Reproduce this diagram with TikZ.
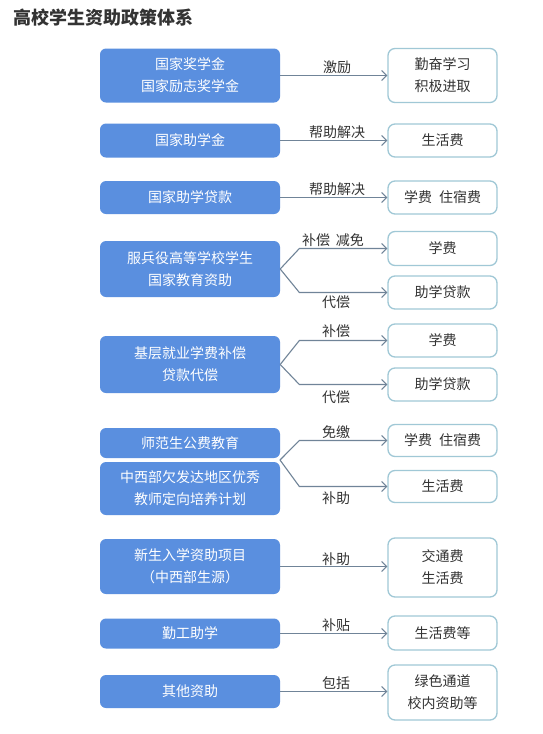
\documentclass[tikz,border=0pt]{standalone}
\usepackage{fontspec}
\newfontfamily\cjk{Noto Sans CJK SC}
\usetikzlibrary{arrows.meta,calc}
\definecolor{bluebox}{RGB}{90,143,223}
\definecolor{rborder}{RGB}{160,200,214}
\definecolor{arrowc}{RGB}{112,132,152}
\definecolor{txt}{RGB}{51,51,51}
\tikzset{
  lbox/.style={fill=bluebox,rounded corners=6pt,text=white,font=\cjk\fontsize{14}{22}\selectfont,align=center,inner sep=0pt,minimum width=180pt},
  rbox/.style={draw=rborder,line width=1.3pt,fill=white,rounded corners=7pt,text=txt,font=\cjk\fontsize{14}{22}\selectfont,align=center,inner sep=0pt,minimum width=109pt},
  conn/.style={draw=arrowc,line width=1.1pt,-{Straight Barb[length=5pt,width=10pt,line width=1.1pt]}},
  lbl/.style={text=txt,font=\cjk\fontsize{14}{16}\selectfont,inner sep=0pt}
}
\begin{document}
\begin{tikzpicture}[x=1pt,y=-1pt]
\useasboundingbox[fill=white] (0,0) rectangle (542,734);
\node[anchor=west,text=txt,font=\cjk\bfseries\fontsize{18}{20}\selectfont,inner sep=0pt] (title) at (13,18) {高校学生资助政策体系};

% row 1
\node[lbox,minimum height=54pt] (b1) at (190,75.5) {国家奖学金\\国家励志奖学金};
\node[rbox,minimum height=54pt] (r1) at (442.5,75.5) {勤奋学习\\积极进取};
\draw[conn] (b1.east) -- (b1.east -| r1.west);
\node[lbl] (l1) at (337,67) {激励};

% row 2
\node[lbox,minimum height=34pt] (b2) at (190,140.5) {国家助学金};
\node[rbox,minimum height=33pt] (r2) at (442.5,140.5) {生活费};
\draw[conn] (b2.east) -- (b2.east -| r2.west);
\node[lbl] (l2) at (337,132) {帮助解决};

% row 3
\node[lbox,minimum height=33pt] (b3) at (190,197.5) {国家助学贷款};
\node[rbox,minimum height=33pt] (r3) at (442.5,197.5) {学费\hspace{0.5em}住宿费};
\draw[conn] (b3.east) -- (b3.east -| r3.west);
\node[lbl] (l3) at (337,189) {帮助解决};

% row 4
\node[lbox,minimum height=56pt] (b4) at (190,269) {服兵役高等学校学生\\国家教育资助};
\node[rbox,minimum height=34pt] (r4a) at (442.5,248.5) {学费};
\node[rbox,minimum height=33pt] (r4b) at (442.5,292.5) {助学贷款};
\draw[conn] (b4.east) -- ([xshift=-88pt]r4a.west) -- (r4a.west);
\draw[conn] (b4.east) -- ([xshift=-88pt]r4b.west) -- (r4b.west);
\node[lbl] (l4a) at (333,240) {补偿\hspace{0.4em}减免};
\node[lbl] (l4b) at (336,302) {代偿};

% row 5
\node[lbox,minimum height=57pt] (b5) at (190,364.5) {基层就业学费补偿\\贷款代偿};
\node[rbox,minimum height=33pt] (r5a) at (442.5,340.5) {学费};
\node[rbox,minimum height=33pt] (r5b) at (442.5,384.5) {助学贷款};
\draw[conn] (b5.east) -- ([xshift=-88pt]r5a.west) -- (r5a.west);
\draw[conn] (b5.east) -- ([xshift=-88pt]r5b.west) -- (r5b.west);
\node[lbl] (l5a) at (336,331) {补偿};
\node[lbl] (l5b) at (336,397) {代偿};

% row 6
\node[lbox,minimum height=30pt] (b6a) at (190,443) {师范生公费教育};
\node[lbox,minimum height=53pt] (b6b) at (190,488.5) {中西部欠发达地区优秀\\教师定向培养计划};
\coordinate (o6) at (280,460);
\node[rbox,minimum height=32pt] (r6a) at (442.5,440.5) {学费\hspace{0.5em}住宿费};
\node[rbox,minimum height=32pt] (r6b) at (442.5,486.5) {生活费};
\draw[conn] (o6) -- ([xshift=-88pt]r6a.west) -- (r6a.west);
\draw[conn] (o6) -- ([xshift=-88pt]r6b.west) -- (r6b.west);
\node[lbl] (l6a) at (336,432) {免缴};
\node[lbl] (l6b) at (336,498) {补助};

% row 7
\node[lbox,minimum height=55pt] (b7) at (190,566.5) {新生入学资助项目\\（中西部生源）};
\node[rbox,minimum height=59pt] (r7) at (442.5,567.5) {交通费\\生活费};
\draw[conn] (b7.east) -- (b7.east -| r7.west);
\node[lbl] (l7) at (336,559) {补助};

% row 8
\node[lbox,minimum height=30pt] (b8) at (190,633.5) {勤工助学};
\node[rbox,minimum height=34pt] (r8) at (442.5,633) {生活费等};
\draw[conn] (b8.east) -- (b8.east -| r8.west);
\node[lbl] (l8) at (336,625) {补贴};

% row 9
\node[lbox,minimum height=33pt] (b9) at (190,691.5) {其他资助};
\node[rbox,minimum height=55pt] (r9) at (442.5,692.5) {绿色通道\\校内资助等};
\draw[conn] (b9.east) -- (b9.east -| r9.west);
\node[lbl] (l9) at (336,683) {包括};
\end{tikzpicture}
\end{document}
